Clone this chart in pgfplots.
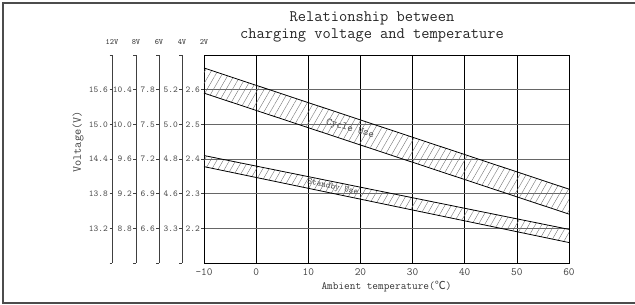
\documentclass[border=0pt]{standalone}
\usepackage{pgfplots}
\pgfplotsset{compat=1.18}
\usepackage{fontspec}
\newfontfamily\cjk{Noto Sans CJK SC}
\usetikzlibrary{patterns.meta}
\begin{document}
\begin{tikzpicture}[font=\ttfamily]
\useasboundingbox (-204pt,-42pt) rectangle (431pt,263pt);
\draw[black!70, line width=1.2pt] (433pt,260pt) -- (-201pt,260pt) -- (-201pt,-40pt) -- (433pt,-40pt);
\pgfplotsset{
 side/.style={scale only axis, width=1pt, height=208pt, xmin=0, xmax=1, ymin=2.1, ymax=2.7,
   anchor=south west, axis x line=none, axis y line=left,
   axis line style={-, draw=black!75, line width=0.8pt},
   ytick={2.1,2.2,2.3,2.4,2.5,2.6,2.7}, tick align=outside, major tick length=2.5pt,
   ytick style={black!75, line width=0.6pt},
   yticklabel style={font=\ttfamily\fontsize{9}{10}\selectfont, text=black!70, inner sep=1.5pt},
   title style={at={(0,1)}, anchor=center, yshift=7pt, font=\ttfamily\fontsize{8}{9}\selectfont, text=black!80}},
}
\begin{axis}[side, at={(-92pt,0pt)}, title={12V}, yticklabels={{},13.2,13.8,14.4,15.0,15.6,{}}]
\addplot[draw=none] coordinates {(0,2.2)};
\end{axis}
\begin{axis}[side, at={(-68pt,0pt)}, title={8V}, yticklabels={{},8.8,9.2,9.6,10.0,10.4,{}}]
\addplot[draw=none] coordinates {(0,2.2)};
\end{axis}
\begin{axis}[side, at={(-45pt,0pt)}, title={6V}, yticklabels={{},6.6,6.9,7.2,7.5,7.8,{}}]
\addplot[draw=none] coordinates {(0,2.2)};
\end{axis}
\begin{axis}[side, at={(-22pt,0pt)}, title={4V}, yticklabels={{},3.3,4.6,4.8,5.0,5.2,{}}]
\addplot[draw=none] coordinates {(0,2.2)};
\end{axis}
\begin{axis}[scale only axis, width=365pt, height=208pt, at={(0pt,0pt)}, anchor=south west,
  xmin=-10, xmax=60, ymin=2.1, ymax=2.7,
  xtick={-10,0,10,20,30,40,50,60}, xticklabels={-10,0,10,20,30,40,50,60},
  ytick={2.2,2.3,2.4,2.5,2.6}, yticklabels={2.2,2.3,2.4,2.5,2.6},
  grid=major, x grid style={black, line width=0.6pt}, y grid style={black!60, line width=0.9pt},
  axis line style={black, line width=0.8pt},
  xtick style={draw=none}, ytick pos=left, tick align=outside, major tick length=2.5pt,
  ytick style={black!75, line width=0.6pt},
  /pgf/number format/assume math mode=true,
  xticklabel style={font=\ttfamily\fontsize{11}{12}\selectfont, text=black!75},
  yticklabel style={font=\ttfamily\fontsize{9}{10}\selectfont, text=black!70, inner sep=1.5pt},
  title={2V}, title style={at={(0,1)}, anchor=center, yshift=7pt, font=\ttfamily\fontsize{8}{9}\selectfont, text=black!80},
  xlabel={Ambient temperature({\cjk ℃})},
  xlabel style={font=\ttfamily\fontsize{11}{12}\selectfont, text=black!80, yshift=2pt},
]
\addplot[draw=none, pattern={Lines[angle=60, distance=5.5pt, line width=0.4pt]}, pattern color=black!55] coordinates {(-10,2.6625) (60,2.313) (60,2.241) (-10,2.590) (-10,2.6625)};
\addplot[draw=none, pattern={Lines[angle=60, distance=5.5pt, line width=0.4pt]}, pattern color=black!55] coordinates {(-10,2.410) (60,2.197) (60,2.159) (-10,2.378) (-10,2.410)};
\addplot[black, line width=0.8pt] coordinates {(-10,2.6625) (60,2.313)};
\addplot[black, line width=0.8pt] coordinates {(-10,2.590) (60,2.241)};
\addplot[black, line width=0.8pt] coordinates {(-10,2.410) (60,2.197)};
\addplot[black, line width=0.8pt] coordinates {(-10,2.378) (60,2.159)};
\node[rotate=-16, text=black!70, font=\ttfamily\fontsize{10.5}{11}\selectfont] at (axis cs:18.0,2.486) {Cycle Use};
\node[rotate=-13, text=black!70, font=\ttfamily\fontsize{9}{10}\selectfont] at (axis cs:14.7,2.318) {Standby Use};
\end{axis}
\node[rotate=90, text=black!75, font=\ttfamily\fontsize{12}{13}\selectfont] at (-126pt,121pt) {Voltage(V)};
\node[align=center, text=black!85, font=\ttfamily\fontsize{16}{17}\selectfont] at (168pt,236.5pt) {Relationship between\\charging voltage and temperature};
\end{tikzpicture}
\end{document}
